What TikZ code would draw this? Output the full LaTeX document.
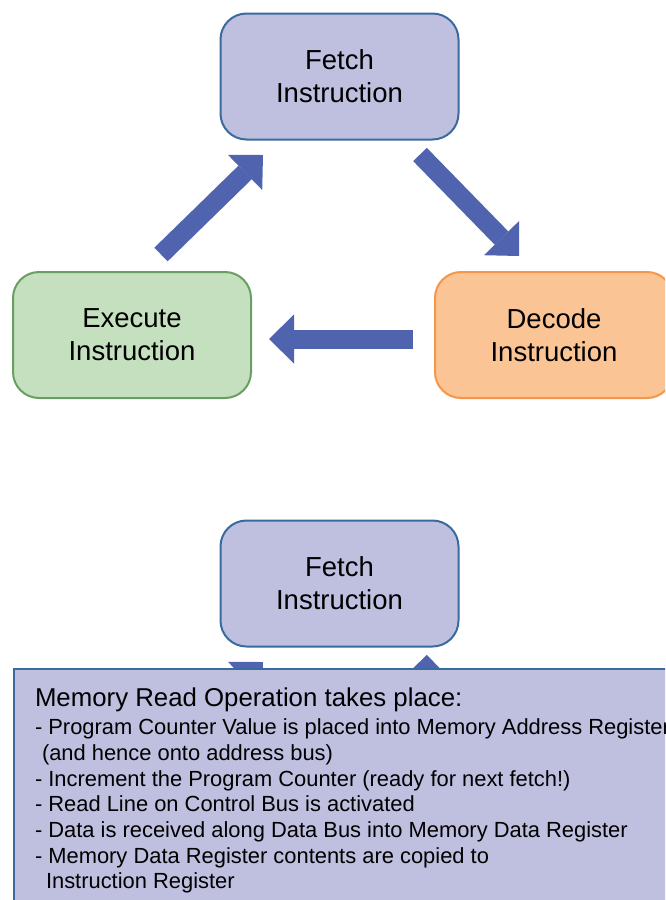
\documentclass[tikz,border=0pt]{standalone}
\usepackage{fontspec}
\setmainfont{Liberation Sans}
\usetikzlibrary{arrows.meta}
\definecolor{lav}{RGB}{191,191,224}
\definecolor{lavline}{RGB}{58,106,158}
\definecolor{grnfill}{RGB}{197,224,191}
\definecolor{grnline}{RGB}{106,158,98}
\definecolor{orgfill}{RGB}{251,196,148}
\definecolor{orgline}{RGB}{246,150,72}
\definecolor{arrc}{RGB}{80,99,174}
\begin{document}
\begin{tikzpicture}[x=1pt,y=-1pt,
  box/.style={draw, line width=2pt, rounded corners=26pt, minimum width=238pt,
    minimum height=126pt, align=center, inner sep=0pt,
    font=\fontsize{27.5}{33}\selectfont},
  fetchbox/.style={box, fill=lav, draw=lavline},
  execbox/.style={box, fill=grnfill, draw=grnline},
  decbox/.style={box, fill=orgfill, draw=orgline},
  blockarrow/.style={draw=arrc, line width=19pt,
    -{Triangle[length=25pt,width=49pt,line width=0pt,fill=arrc]}},
  memo/.style={draw=lavline, fill=lav, line width=2pt, anchor=north west,
    inner xsep=21pt, inner ysep=19pt}]
\useasboundingbox (0,0) rectangle (665,900);
\clip (0,0) rectangle (665,900);
\fill[white] (0,0) rectangle (665,900);

% top cycle
\node[fetchbox] (fetch) at (339.5,76.5) {Fetch\\Instruction};
\node[execbox] (exec) at (132,335) {Execute\\Instruction};
\node[decbox] (dec) at (554,335) {Decode\\Instruction};

\coordinate (a1s) at (161,254.5);
\coordinate (a1e) at (263,155);
\coordinate (a2s) at (420,154.5);
\coordinate (a2e) at (519,256);
\coordinate (a3s) at (413,339);
\coordinate (a3e) at (269,339);
\draw[blockarrow] (a1s) -- (a1e);
\draw[blockarrow] (a2s) -- (a2e);
\draw[blockarrow] (a3s) -- (a3e);

% lower copy
\node[fetchbox] (fetchb) at (339.5,583.5) {Fetch\\Instruction};
\coordinate (b1s) at (161,761.5);
\coordinate (b1e) at (263,662);
\coordinate (b2s) at (420,661.5);
\coordinate (b2e) at (519,763);
\draw[blockarrow] (b1s) -- (b1e);
\draw[blockarrow] (b2s) -- (b2e);

\node[memo] (memo) at (13,668) {\parbox[t][230pt][t]{658pt}{\raggedright
\fontsize{21.9}{25.7}\selectfont
{\fontsize{25.8}{29}\selectfont Memory Read Operation takes place:}\\[2.3pt]
- Program Counter Value is placed into Memory Address Register\\
\hspace*{7pt}(and hence onto address bus)\\
- Increment the Program Counter (ready for next fetch!)\\
- Read Line on Control Bus is activated\\
- Data is received along Data Bus into Memory Data Register\\
- Memory Data Register contents are copied to\\
\hspace*{11pt}Instruction Register}};
\end{tikzpicture}
\end{document}
